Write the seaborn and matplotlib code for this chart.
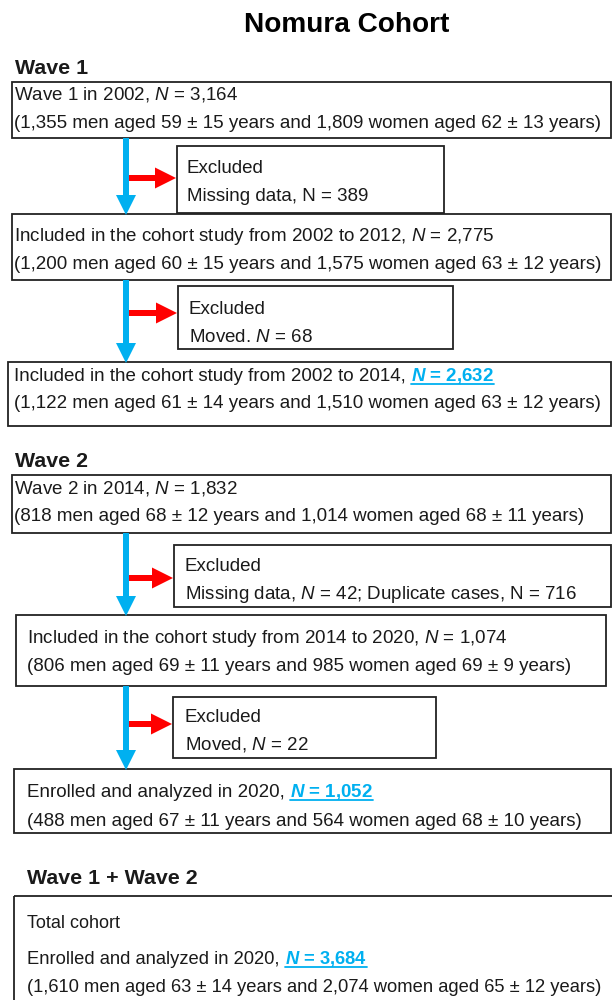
import matplotlib
matplotlib.use("Agg")
import matplotlib.pyplot as plt
import seaborn as sns
from matplotlib.patches import Rectangle, FancyArrow

# Style
sns.set_theme(style="white")
plt.rcParams["font.family"] = ["Liberation Sans", "DejaVu Sans"]
plt.rcParams["mathtext.fontset"] = "custom"
plt.rcParams["mathtext.rm"] = "Liberation Sans"
plt.rcParams["mathtext.it"] = "Liberation Sans:italic"
plt.rcParams["mathtext.bf"] = "Liberation Sans:bold"
plt.rcParams["mathtext.bfit"] = "Liberation Sans:italic:bold"

# ==========================================================
# Data
# ==========================================================
title = "Nomura Cohort"
wave_titles = ["Wave 1", "Wave 2", "Wave 1 + Wave 2"]

stage_labels = [
    "Wave 1 in 2002",
    "Included in the cohort study from 2002 to 2012",
    "Included in the cohort study from 2002 to 2014",
    "Wave 2 in 2014",
    "Included in the cohort study from 2014 to 2020",
    "Enrolled and analyzed in 2020",
    "Enrolled and analyzed in 2020",
]
stage_n = [3164, 2775, 2632, 1832, 1074, 1052, 3684]
men_n = [1355, 1200, 1122, 818, 806, 488, 1610]
men_age = [59, 60, 61, 68, 69, 67, 63]
men_sd = [15, 15, 14, 12, 11, 11, 14]
women_n = [1809, 1575, 1510, 1014, 985, 564, 2074]
women_age = [62, 63, 63, 68, 69, 68, 65]
women_sd = [13, 12, 12, 11, 9, 10, 12]
highlighted = [False, False, True, False, False, True, True]

excluded_n = [389, 68, 42, 22]
duplicate_n = 716
excluded_lines = [
    f"Missing data, N = {excluded_n[0]}",
    f"Moved. $N$ = {excluded_n[1]}",
    f"Missing data, $N$ = {excluded_n[2]}; Duplicate cases, N = {duplicate_n}",
    f"Moved, $N$ = {excluded_n[3]}",
]
total_label = "Total cohort"

# ==========================================================
# Layout (pixels, y downwards)
# ==========================================================
stage_boxes = [
    (12, 82, 611, 138),
    (12, 214, 611, 280),
    (8, 362, 611, 426),
    (12, 475, 611, 533),
    (16, 615, 606, 686),
    (14, 769, 611, 833),
    (14, 896, 650, 1010),
]
stage_text_x = [14, 14, 14, 14, 27, 27, 27]
stage_line_y = [(94, 122), (235, 263), (375, 402), (488, 515),
                (637, 665), (791, 820), (958, 986)]
stage_fs = [13.5, 13.5, 13.5, 13.5, 13.5, 13.5, 13.2]
total_label_y = 922

excl_boxes = [
    (177, 146, 444, 213),
    (178, 286, 453, 349),
    (174, 545, 611, 607),
    (173, 697, 436, 758),
]
excl_text_x = [187, 189, 185, 185]
excl_line_y = [(167, 195), (308, 336), (565, 593), (716, 744)]
excl_arrow_y = [178, 313, 578, 724]

# arrows between stage boxes: (from stage, to stage)
flow = [(0, 1), (1, 2), (3, 4), (4, 5)]
arrow_x = 126

wave_pos = [(15, 67), (15, 460), (27, 877)]

TXT = "#1a1a1a"
BLUE = "#00B0F0"
RED = "#FF0000"
FS = 13.5
OFF = 6

# ==========================================================
# Figure
# ==========================================================
fig = plt.figure(figsize=(6.12, 10), dpi=100)
ax = fig.add_axes([0, 0, 1, 1])
ax.set_xlim(0, 612)
ax.set_ylim(1000, 0)
ax.axis("off")
fig.canvas.draw()
renderer = fig.canvas.get_renderer()


def width_of(t):
    return t.get_window_extent(renderer=renderer).width


def space_width(fs):
    p1 = ax.text(0, -50, "a a", fontsize=fs)
    p2 = ax.text(0, -50, "aa", fontsize=fs)
    w = width_of(p1) - width_of(p2)
    p1.remove()
    p2.remove()
    return w


def draw_box(box):
    x0, y0, x1, y1 = box
    ax.add_patch(Rectangle((x0, y0), x1 - x0, y1 - y0, fill=False,
                           edgecolor="#222222", linewidth=1.3, zorder=2))


# Title and wave headings
ax.text(347, 25, title, fontsize=20.2, fontweight="bold", color="black",
        ha="center", va="center")
for label, (x, y) in zip(wave_titles, wave_pos):
    ax.text(x, y + 7, label, fontsize=15.4, fontweight="bold", color=TXT,
            va="baseline")

# Stage boxes
for i, box in enumerate(stage_boxes):
    draw_box(box)
    x = stage_text_x[i]
    fs = stage_fs[i]
    y1, y2 = stage_line_y[i]
    if highlighted[i]:
        t = ax.text(x, y1 + OFF, f"{stage_labels[i]},", fontsize=fs,
                    color=TXT, va="baseline")
        hx = x + width_of(t) + space_width(fs)
        h = ax.text(hx, y1 + OFF, r"$\mathbfit{N}$ = " + f"{stage_n[i]:,}",
                    fontsize=fs, color=BLUE, fontweight="bold", va="baseline")
        bb = h.get_window_extent(renderer=renderer)
        ax.plot([hx, hx + bb.width], [y1 + OFF + 2.5] * 2, color=BLUE,
                linewidth=1.3)
    else:
        ax.text(x, y1 + OFF, f"{stage_labels[i]}, $N$ = {stage_n[i]:,}",
                fontsize=fs, color=TXT, va="baseline")
    demo = (f"({men_n[i]:,} men aged {men_age[i]} \u00b1 {men_sd[i]} years and "
            f"{women_n[i]:,} women aged {women_age[i]} \u00b1 {women_sd[i]} years)")
    ax.text(x, y2 + OFF, demo, fontsize=fs, color=TXT, va="baseline")

ax.text(stage_text_x[6], total_label_y + OFF, total_label, fontsize=13,
        color=TXT, va="baseline")

# Excluded boxes
for i, box in enumerate(excl_boxes):
    draw_box(box)
    y1, y2 = excl_line_y[i]
    ax.text(excl_text_x[i], y1 + OFF, "Excluded", fontsize=FS, color=TXT,
            va="baseline")
    ax.text(excl_text_x[i], y2 + OFF, excluded_lines[i], fontsize=FS,
            color=TXT, va="baseline")

# Arrows
for (a, b), ebox, ey in zip(flow, excl_boxes, excl_arrow_y):
    y_start = stage_boxes[a][3]
    y_end = stage_boxes[b][1]
    ax.add_patch(FancyArrow(arrow_x + 2, ey, ebox[0] - arrow_x - 3, 0,
                            width=6, head_width=21, head_length=21,
                            length_includes_head=True, color=RED,
                            linewidth=0, zorder=3))
    ax.add_patch(FancyArrow(arrow_x, y_start, 0, y_end - y_start + 1,
                            width=6, head_width=20, head_length=20,
                            length_includes_head=True, color=BLUE,
                            linewidth=0, zorder=3))

plt.savefig("out.png", dpi=100)
